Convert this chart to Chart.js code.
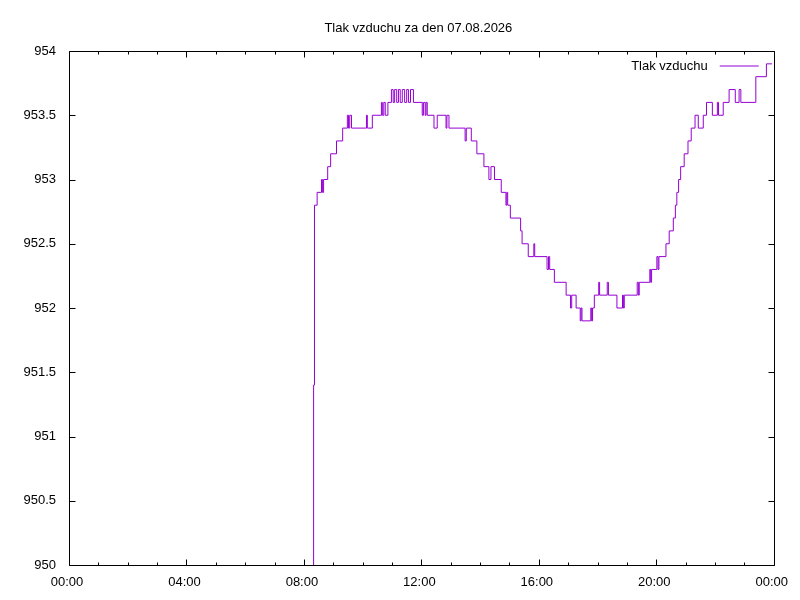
<!DOCTYPE html>
<html>
<head>
<meta charset="utf-8">
<title>Tlak vzduchu</title>
<script src="https://cdn.jsdelivr.net/npm/chart.js@4.4.1/dist/chart.umd.min.js"></script>
<style>
    html, body { margin: 0; padding: 0; background: #fff; }
    #chart { display: block; }
</style>
</head>
<body>
<canvas id="chart" width="800" height="600"></canvas>
<script>
const TITLE = 'Tlak vzduchu za den 07.08.2026';
const SERIES_LABEL = 'Tlak vzduchu';

// time of day in hours, value holds until the next point
const hours = [
    8.31, 8.33, 8.36, 8.45, 8.60, 8.63, 8.67, 8.81, 8.91, 9.11, 9.32,
    9.48, 9.52, 9.56, 9.62,
    10.13, 10.16, 10.33,
    10.64, 10.67, 10.72, 10.77, 10.86,
    10.98, 11.04, 11.09, 11.16, 11.22, 11.28, 11.35, 11.43, 11.50, 11.56, 11.63, 11.73,
    12.03, 12.07, 12.13, 12.16, 12.20,
    12.43, 12.54, 12.84, 12.87, 12.94,
    13.49, 13.53, 13.70, 13.89, 14.13, 14.30, 14.37, 14.49, 14.72,
    14.88, 14.91, 14.94, 15.03, 15.38, 15.43, 15.64, 15.83, 15.86,
    16.28, 16.33, 16.37, 16.53, 16.93, 17.08, 17.12, 17.27, 17.41, 17.44, 17.47,
    17.77, 17.80, 17.83, 17.89, 18.04, 18.07, 18.33, 18.37, 18.66, 18.85, 18.88, 18.91,
    19.35, 19.39, 19.42, 19.78, 19.81, 19.84, 20.02, 20.06, 20.09,
    20.33, 20.44, 20.58, 20.65, 20.70, 20.76, 20.83, 20.95, 21.08, 21.19,
    21.32, 21.43, 21.60, 21.71, 21.91, 22.08, 22.12, 22.28, 22.48, 22.69, 22.82, 22.88,
    23.39, 23.75, 23.94
];

// hPa
const pressure = [
    950.0, 951.4, 952.8, 952.9, 953.0, 952.9, 953.0, 953.1, 953.2, 953.3, 953.4,
    953.5, 953.4, 953.5, 953.4,
    953.5, 953.4, 953.5,
    953.6, 953.5, 953.6, 953.5, 953.6,
    953.7, 953.6, 953.7, 953.6, 953.7, 953.6, 953.7, 953.6, 953.7, 953.6, 953.7, 953.6,
    953.5, 953.6, 953.5, 953.6, 953.5,
    953.4, 953.5, 953.4, 953.5, 953.4,
    953.3, 953.4, 953.3, 953.2, 953.1, 953.0, 953.1, 953.0, 952.9,
    952.8, 952.9, 952.8, 952.7, 952.6, 952.5, 952.4, 952.5, 952.4,
    952.3, 952.4, 952.3, 952.2, 952.1, 952.0, 952.1, 952.0, 951.9, 952.0, 951.9,
    952.0, 951.9, 952.0, 952.1, 952.2, 952.1, 952.2, 952.1, 952.0, 952.1, 952.0, 952.1,
    952.2, 952.1, 952.2, 952.3, 952.2, 952.3, 952.4, 952.3, 952.4,
    952.5, 952.6, 952.7, 952.8, 952.9, 953.0, 953.1, 953.2, 953.3, 953.4,
    953.5, 953.4, 953.5, 953.6, 953.5, 953.6, 953.5, 953.6, 953.7, 953.6, 953.7, 953.6,
    953.8, 953.9, 953.9
];

const xTicks = [0, 4, 8, 12, 16, 20, 24];
const xTickLabels = ['00:00', '04:00', '08:00', '12:00', '16:00', '20:00', '00:00'];
const yTicks = [950, 950.5, 951, 951.5, 952, 952.5, 953, 953.5, 954];

const LINE_COLOR = '#9400d3';
const FONT = '"Liberation Sans", Arial, sans-serif';

Chart.defaults.font.family = FONT;
Chart.defaults.font.size = 13;
Chart.defaults.color = '#000';

// gnuplot look: frame, inward ticks, title over plot, legend inside
const gnuplotFrame = {
    id: 'gnuplotFrame',
    afterDraw(chart) {
        const ctx = chart.ctx;
        const area = chart.chartArea;
        const xs = chart.scales.x;
        const ys = chart.scales.y;
        const L = Math.round(area.left) + 0.5;
        const R = Math.round(area.right) + 0.5;
        const T = Math.round(area.top) + 0.5;
        const B = Math.round(area.bottom) + 0.5;

        ctx.save();
        ctx.strokeStyle = '#000';
        ctx.lineWidth = 1;
        ctx.beginPath();
        ctx.rect(L, T, R - L, B - T);

        for (let h = xs.min; h <= xs.max; h++) {
            const px = Math.round(xs.getPixelForValue(h)) + 0.5;
            const len = xTicks.includes(h) ? 6 : 3;
            ctx.moveTo(px, B); ctx.lineTo(px, B - len);
            ctx.moveTo(px, T); ctx.lineTo(px, T + len);
        }
        yTicks.forEach(v => {
            const py = Math.round(ys.getPixelForValue(v)) + 0.5;
            ctx.moveTo(L, py); ctx.lineTo(L + 6, py);
            ctx.moveTo(R, py); ctx.lineTo(R - 6, py);
        });
        ctx.stroke();

        ctx.fillStyle = '#000';
        ctx.font = '13px ' + FONT;
        ctx.textBaseline = 'alphabetic';
        ctx.textAlign = 'center';
        ctx.fillText(TITLE, (area.left + area.right) / 2 - 3, 31.5);

        const ds = chart.data.datasets[0];
        ctx.textAlign = 'right';
        ctx.fillText(ds.label, area.right - 66, area.top + 19);
        ctx.strokeStyle = ds.borderColor;
        ctx.beginPath();
        ctx.moveTo(area.right - 54, area.top + 15);
        ctx.lineTo(area.right - 15, area.top + 15);
        ctx.stroke();
        ctx.restore();
    }
};

const ctx = document.getElementById('chart');

new Chart(ctx, {
    type: 'line',
    data: {
        datasets: [{
            label: SERIES_LABEL,
            data: hours.map((h, i) => ({x: h, y: pressure[i]})),
            borderColor: LINE_COLOR,
            borderWidth: 1,
            pointRadius: 0,
            stepped: true,
            tension: 0,
            fill: false
        }]
    },
    options: {
        responsive: false,
        devicePixelRatio: 1,
        animation: false,
        layout: {
            padding: {top: 51, right: 25, bottom: 0, left: 0}
        },
        plugins: {
            legend: {display: false},
            title: {display: false},
            tooltip: {enabled: false}
        },
        scales: {
            x: {
                type: 'linear',
                min: 0,
                max: 24,
                grid: {display: false, drawTicks: false},
                border: {display: false},
                afterFit: (scale) => { scale.height = 35; },
                afterBuildTicks: (scale) => {
                    scale.ticks = xTicks.map(v => ({value: v}));
                },
                ticks: {
                    padding: 10,
                    labelOffset: -2,
                    maxRotation: 0,
                    autoSkip: false,
                    callback: (value) => xTickLabels[xTicks.indexOf(value)]
                }
            },
            y: {
                min: 950,
                max: 954,
                grid: {display: false, drawTicks: false},
                border: {display: false},
                afterFit: (scale) => { scale.width = 69; },
                afterBuildTicks: (scale) => {
                    scale.ticks = yTicks.map(v => ({value: v}));
                },
                ticks: {
                    padding: 13,
                    callback: (value) => String(value)
                }
            }
        }
    },
    plugins: [gnuplotFrame]
});
</script>
</body>
</html>
